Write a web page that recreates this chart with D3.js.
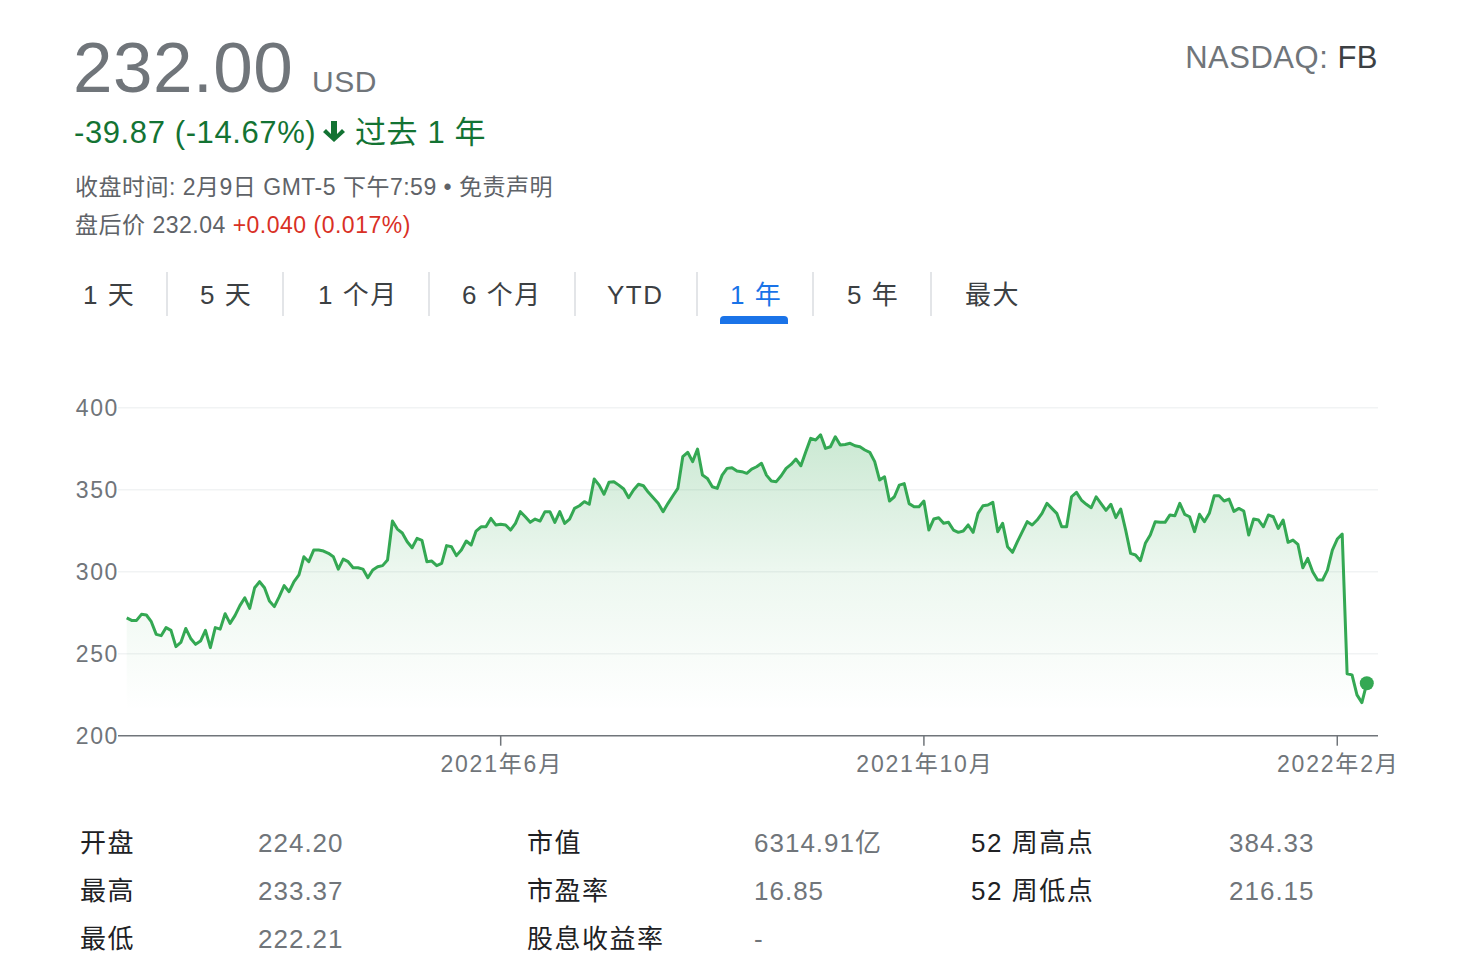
<!DOCTYPE html>
<html><head><meta charset="utf-8">
<script src="https://cdn.jsdelivr.net/npm/d3@7"></script>
<style>
html,body{margin:0;padding:0;background:#fff;}
svg text{font-family:"Liberation Sans",Arial,"Noto Sans CJK SC",sans-serif;}
</style></head>
<body><svg id="c" width="1460" height="980"></svg>
<script>
// ---- data ----
const prices = [271.87,270.3,270.3,274.0,273.6,269.5,261.8,261.0,265.9,264.2,254.3,256.9,265.4,259.3,255.7,257.7,264.2,253.7,265.9,265.0,
274.4,268.5,273.2,279.3,284.1,277.6,290.2,293.9,290.2,282.1,278.7,284.8,291.5,287.8,293.9,298.0,309.1,306.1,313.2,313.2,
312.6,311.2,309.1,301.6,307.7,306.1,302.4,302.4,301.6,296.3,301.0,303.0,303.7,307.1,330.9,326.0,323.6,318.3,314.6,320.3,
319.1,306.1,306.5,303.7,305.1,315.9,315.2,309.8,313.2,318.7,316.3,324.8,327.4,327.4,332.5,328.5,328.9,328.5,325.4,329.5,
336.6,333.5,330.1,332.1,330.9,336.6,336.6,330.1,336.6,329.5,332.1,338.6,340.2,342.7,341.1,356.5,352.8,347.2,354.5,354.9,
352.8,350.4,345.1,349.8,353.3,352.4,348.4,345.1,341.7,336.6,341.7,346.3,350.8,370.1,372.8,367.1,374.8,358.9,356.9,351.8,
350.8,358.9,363.0,363.4,361.4,361.0,360.0,362.6,364.0,366.1,358.9,355.3,354.9,358.5,363.0,365.4,368.7,364.6,373.2,381.3,
380.3,383.5,375.2,376.2,382.3,377.2,377.6,378.3,376.8,376.2,374.2,372.8,367.1,355.9,357.9,343.1,345.7,352.8,353.7,341.5,
339.6,339.6,343.1,325.4,332.1,332.9,329.5,330.1,325.4,324.0,324.8,328.5,324.0,335.6,340.2,340.7,342.3,324.4,329.5,315.2,
311.8,318.3,324.4,330.5,328.5,331.5,335.6,341.7,338.6,335.6,327.4,327.4,345.7,348.4,343.7,341.1,339.0,345.7,341.5,337.4,
341.1,333.0,338.2,325.4,311.2,310.2,306.7,317.3,322.4,330.5,330.1,330.1,334.6,334.1,341.7,335.0,333.5,324.4,335.0,330.5,
335.6,346.3,346.3,343.1,344.3,336.8,338.6,337.0,322.4,332.1,331.5,327.4,334.6,333.5,326.4,331.5,317.9,319.3,316.7,302.4,
308.1,300.0,294.9,294.9,301.0,313.2,319.9,323.0,237.76,237.09,224.91,220.18,232.00];
const yTickValues = [200,250,300,350,400];
const xTickIndex = [76,162,246];
const xTickLabels = ["2021年6月","2021年10月","2022年2月"];
const tabLabels = ["1 天","5 天","1 个月","6 个月","YTD","1 年","5 年","最大"];
const activeTab = "1 年";
const statLabels1 = ["开盘","最高","最低"];
const statValues1 = ["224.20","233.37","222.21"];
const statLabels2 = ["市值","市盈率","股息收益率"];
const statValues2 = ["6314.91亿","16.85","-"];
const statLabels3 = ["52 周高点","52 周低点"];
const statValues3 = ["384.33","216.15"];

// ---- drawing ----
const svg = d3.select("#c");
const GRAY = "#70757a", DARK = "#202124", GREEN = "#137333", LINE = "#34a853";

// header
const h = svg.append("g");
h.append("text").attr("x",73).attr("y",92).attr("font-size",71).attr("letter-spacing",0.5).attr("fill",GRAY).text("232.00");
h.append("text").attr("x",312).attr("y",92).attr("font-size",30).attr("letter-spacing",0.5).attr("fill",GRAY).text("USD");
h.append("text").attr("x",74).attr("y",143).attr("font-size",31).attr("letter-spacing",0.6).attr("fill",GREEN).text("-39.87 (-14.67%)");
// down arrow
h.append("path").attr("d","M331,121 h6 v13 l5,-5 l3,3 l-11,10 l-11,-10 l3,-3 l5,5 z").attr("fill",GREEN);
h.append("text").attr("x",355).attr("y",143).attr("font-size",31).attr("letter-spacing",0.6).attr("fill",GREEN).text("过去 1 年");
h.append("text").attr("x",75).attr("y",195).attr("font-size",23).attr("letter-spacing",0.5).attr("fill","#5f6368").text("收盘时间: 2月9日 GMT-5 下午7:59 • 免责声明");
const ah = h.append("text").attr("x",75).attr("y",233).attr("font-size",23).attr("letter-spacing",0.5);
ah.append("tspan").attr("fill","#5f6368").text("盘后价 232.04 ");
ah.append("tspan").attr("fill","#d93025").text("+0.040 (0.017%)");
const nd = h.append("text").attr("x",1378).attr("y",68).attr("font-size",31).attr("letter-spacing",0.5).attr("text-anchor","end");
nd.append("tspan").attr("fill",GRAY).text("NASDAQ: ");
nd.append("tspan").attr("fill","#3c4043").text("FB");

// tabs
const tabX = [83,200,318,462,607,730,847,965];
const sepX = [167,283,429,575,697,813,931];
const tg = svg.append("g");
tabLabels.forEach((t,i)=>{
  tg.append("text").attr("x",tabX[i]).attr("y",304).attr("font-size",26).attr("letter-spacing",1.5)
    .attr("fill", t===activeTab ? "#1a73e8" : "#3c4043").text(t);
});
sepX.forEach(x=>tg.append("line").attr("x1",x).attr("x2",x).attr("y1",272).attr("y2",316).attr("stroke","#dadce0").attr("stroke-width",1.5));
tg.append("path").attr("d","M720,324 v-4 a4,4 0 0 1 4,-4 h60 a4,4 0 0 1 4,4 v4 z").attr("fill","#1a73e8");

// chart
const x = d3.scaleLinear().domain([0, prices.length-1]).range([126.7, 1366.8]);
const y = d3.scaleLinear().domain([200,400]).range([735.7, 407.7]);
const cg = svg.append("g");
const defs = svg.append("defs");
const grad = defs.append("linearGradient").attr("id","ag").attr("gradientUnits","userSpaceOnUse")
  .attr("x1",0).attr("x2",0).attr("y1",y(385)).attr("y2",y(215));
grad.append("stop").attr("offset",0).attr("stop-color",LINE).attr("stop-opacity",0.26);
grad.append("stop").attr("offset",0.5).attr("stop-color",LINE).attr("stop-opacity",0.09);
grad.append("stop").attr("offset",1).attr("stop-color",LINE).attr("stop-opacity",0);

// grid
yTickValues.filter(v=>v>200).forEach(v=>{
  cg.append("line").attr("x1",118).attr("x2",1378).attr("y1",y(v)).attr("y2",y(v)).attr("stroke","#f1f3f4").attr("stroke-width",1.5);
});
yTickValues.forEach(v=>{
  cg.append("text").attr("x",119).attr("y",y(v)).attr("dy","0.36em").attr("text-anchor","end")
    .attr("font-size",23).attr("letter-spacing",1.6).attr("fill",GRAY).text(v);
});

const area = d3.area().x((d,i)=>x(i)).y0(y(200)).y1(d=>y(d));
cg.append("path").datum(prices).attr("d",area).attr("fill","url(#ag)");
const line = d3.line().x((d,i)=>x(i)).y(d=>y(d));
cg.append("path").datum(prices).attr("d",line).attr("fill","none").attr("stroke",LINE)
  .attr("stroke-width",3).attr("stroke-linejoin","round");

// x axis
cg.append("line").attr("x1",118).attr("x2",1378).attr("y1",y(200)).attr("y2",y(200)).attr("stroke",GRAY).attr("stroke-width",1.5);
xTickIndex.forEach((ti,k)=>{
  cg.append("line").attr("x1",x(ti)).attr("x2",x(ti)).attr("y1",y(200)).attr("y2",y(200)+10).attr("stroke",GRAY).attr("stroke-width",1.5);
  cg.append("text").attr("x",x(ti)+1).attr("y",772).attr("text-anchor","middle").attr("font-size",23)
    .attr("letter-spacing",1.8).attr("fill",GRAY).text(xTickLabels[k]);
});
// end dot
const last = prices.length-1;
cg.append("circle").attr("cx",x(last)).attr("cy",y(prices[last])).attr("r",7).attr("fill",LINE);

// stats
const sg = svg.append("g");
const rowY = [852,900,948];
function col(labels, values, lx, vx){
  labels.forEach((l,i)=>{
    sg.append("text").attr("x",lx).attr("y",rowY[i]).attr("font-size",26).attr("letter-spacing",1.5).attr("fill",DARK).text(l);
    sg.append("text").attr("x",vx).attr("y",rowY[i]).attr("font-size",26).attr("letter-spacing",1).attr("fill",GRAY).text(values[i]);
  });
}
col(statLabels1, statValues1, 80, 258);
col(statLabels2, statValues2, 527, 754);
col(statLabels3, statValues3, 971, 1229);
</script></body></html>
